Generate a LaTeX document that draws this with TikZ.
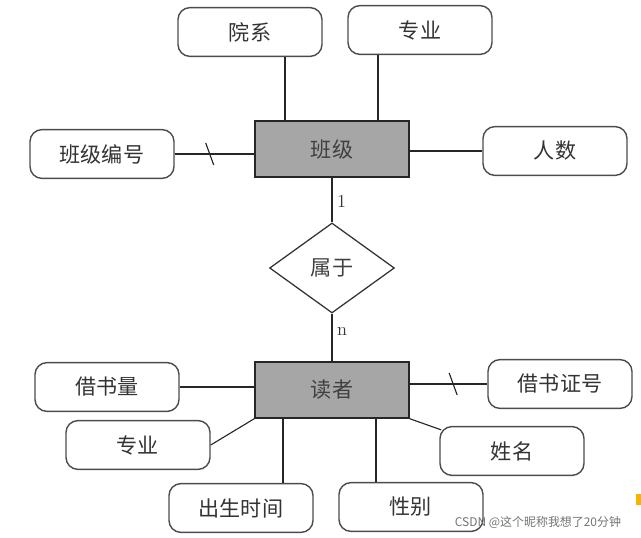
\documentclass[tikz,border=0pt]{standalone}
\usepackage{fontspec}
\newfontfamily\cjk{Noto Sans CJK SC}
\usetikzlibrary{calc,shapes.geometric}
\definecolor{mark}{RGB}{245,180,0}

\begin{document}
\begin{tikzpicture}[x=0.025cm, y=-0.025cm,
  attr/.style={draw=black!70, line width=1pt, rounded corners=0.3cm, fill=white, minimum width=3.6cm, minimum height=1.22cm, text=black!80, font=\cjk\fontsize{15}{18}\selectfont},
  ent/.style={draw=black!85, line width=1pt, fill=black!35, minimum width=3.85cm, minimum height=1.4cm, text=black!75, font=\cjk\fontsize{15}{18}\selectfont},
  rel/.style={draw=black!80, line width=0.9pt, diamond, minimum width=3.12cm, minimum height=2.25cm, inner sep=0pt, text=black!75, font=\cjk\fontsize{15}{18}\selectfont},
  link/.style={color=black!85, line width=0.8pt},
  card/.style={right, text=black!80, font=\fontsize{13}{15}\selectfont}]
\useasboundingbox (0,0) rectangle (641,538);
%
% Entite classe
\node[ent] (banji) at (332,149) {班级};
\node[attr] (yuanxi) at (250,32) {院系};
\node[attr] (zhuanye) at (420,30) {专业};
\node[attr] (bjbh) at (102,154) {班级编号};
\node[attr] (renshu) at (555,151) {人数};
% Association
\node[rel] (shuyu) at (332,268) {属于};
% Entite lecteur
\node[ent] (duzhe) at (332,390) {读者};
\node[attr] (jsl) at (107,387) {借书量};
\node[attr] (jszh) at (560,384) {借书证号};
\node[attr] (zy) at (138,445) {专业};
\node[attr] (cssj) at (241,508) {出生时间};
\node[attr] (xb) at (411,507) {性别};
\node[attr] (xm) at (512,451) {姓名};
%
% Segments classe
\draw[link] (yuanxi.south -| 285,0) -- (banji.north -| 285,0);
\draw[link] (zhuanye.south -| 378,0) -- (banji.north -| 378,0);
\draw[link] (bjbh.east) -- coordinate[pos=0.44] (k1) (bjbh.east -| banji.west);
\draw[link] ($(k1)+(-4,-11)$) -- ($(k1)+(4,11)$);
\draw[link] (renshu.west -| banji.east) -- (renshu.west);
% Segments association
\draw[link] (banji.south) -- node[card, pos=0.54] {1} (shuyu.north);
\draw[link] (shuyu.south) -- node[card, pos=0.37] {n} (duzhe.north);
% Segments lecteur
\draw[link] (jsl.east) -- (jsl.east -| duzhe.west);
\draw[link] (jszh.west -| duzhe.east) -- coordinate[pos=0.56] (k2) (jszh.west);
\draw[link] ($(k2)+(-4,-11)$) -- ($(k2)+(4,11)$);
\draw[link] (duzhe.south west) -- (zy.east);
\draw[link] (duzhe.south -| 283,0) -- (cssj.north -| 283,0);
\draw[link] (duzhe.south -| 376,0) -- (xb.north -| 376,0);
\draw[link] (duzhe.south east) -- ($(xm.north west)+(2,4)$);
%
% Filigrane
\node[anchor=east, text=black!55, font=\cjk\fontsize{8.5}{10}\selectfont] (wm) at (626,522) {CSDN @这个昵称我想了20分钟};
\fill[color=mark] (636,494) rectangle (641,505);
\end{tikzpicture}
\end{document}
